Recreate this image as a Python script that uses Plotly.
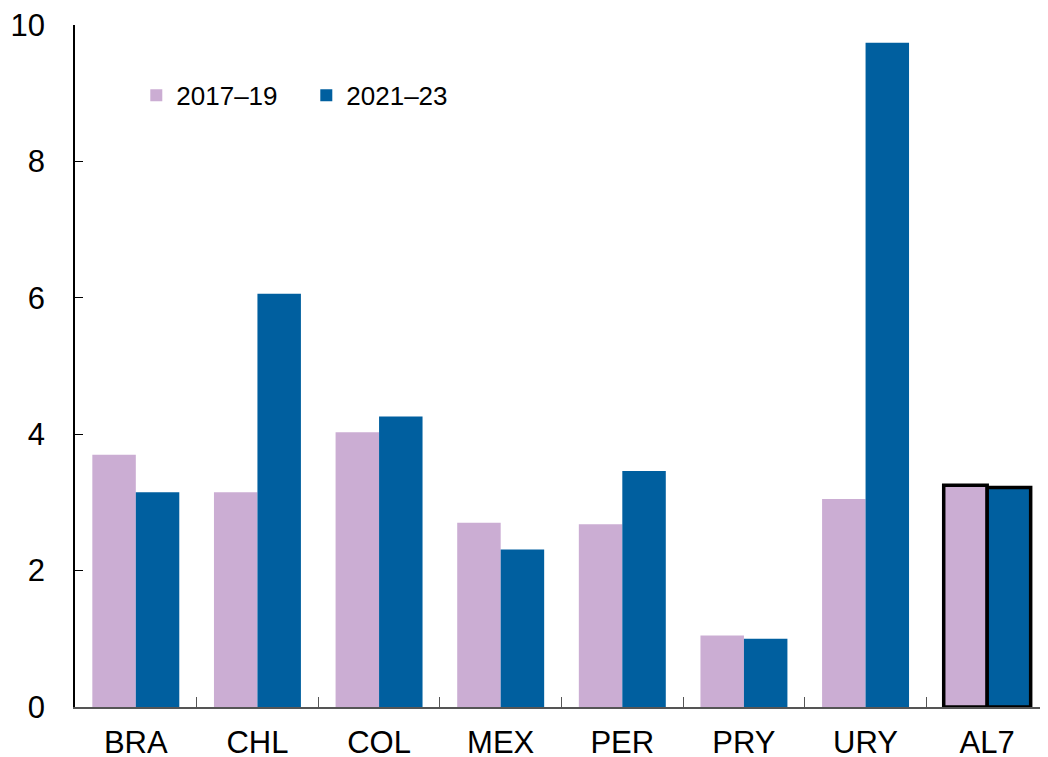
import plotly.graph_objects as go

categories = ["BRA", "CHL", "COL", "MEX", "PER", "PRY", "URY", "AL7"]
series_2017_19 = [3.70, 3.15, 4.03, 2.70, 2.68, 1.05, 3.05, 3.25]
series_2021_23 = [3.15, 6.06, 4.26, 2.31, 3.46, 1.00, 9.74, 3.22]
y_ticks = [0, 2, 4, 6, 8, 10]

light = "#CBADD3"
dark = "#005F9F"

line_w = [0] * 7 + [3.5]

fig = go.Figure()
fig.add_trace(go.Bar(
    x=categories, y=series_2017_19, name="2017–19",
    marker=dict(color=light, line=dict(color="black", width=line_w)),
))
fig.add_trace(go.Bar(
    x=categories, y=series_2021_23, name="2021–23",
    marker=dict(color=dark, line=dict(color="black", width=line_w)),
))

fig.update_layout(
    width=1040, height=749,
    margin=dict(l=67, r=0, t=17, b=50),
    plot_bgcolor="white", paper_bgcolor="white",
    barmode="group", bargap=0.285, bargroupgap=0,
    font=dict(family="Liberation Sans, Arial, sans-serif", size=28, color="black"),
    showlegend=True,
    legend=dict(
        orientation="h", x=0.063, y=0.897, xanchor="left", yanchor="middle",
        font=dict(size=26), bgcolor="rgba(0,0,0,0)", itemwidth=30,
        tracegroupgap=0, entrywidth=125, entrywidthmode="pixels",
    ),
)
fig.update_xaxes(
    range=[-0.5, 7.5], showline=True, linecolor="#555555", linewidth=1.5,
    ticks="inside", tickson="boundaries", ticklen=10, tickcolor="#555555",
    showgrid=False, ticklabelstandoff=7, zeroline=False, automargin=False,
    tickfont=dict(size=31), ticklabeloverflow="allow",
)
fig.update_yaxes(
    range=[0, 10], tickvals=y_ticks, showline=True, linecolor="black",
    linewidth=1.5, ticks="inside", ticklen=8, tickcolor="black",
    showgrid=False, zeroline=False, ticklabelstandoff=22, automargin=False,
    tickfont=dict(size=31), ticklabeloverflow="allow",
)

fig.write_html("out.html")
